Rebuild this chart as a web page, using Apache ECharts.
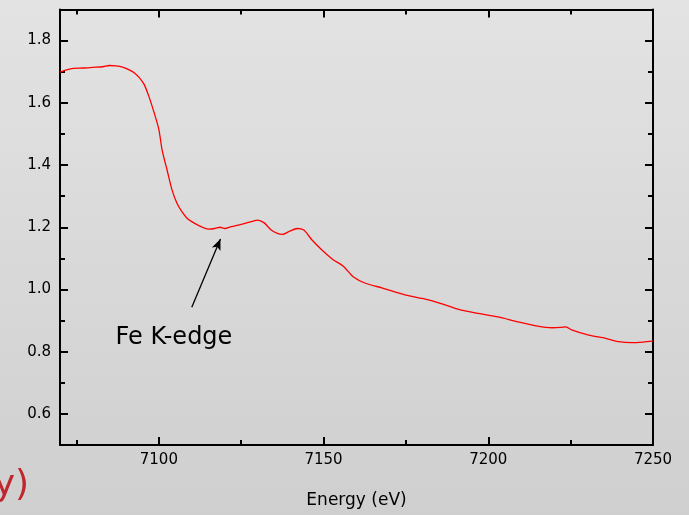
<!DOCTYPE html>
<html>
<head>
<meta charset="utf-8">
<script src="https://cdn.jsdelivr.net/npm/echarts@6/dist/echarts.min.js"></script>
<style>
  html, body { margin: 0; padding: 0; }
  #chart { width: 689px; height: 515px; }
</style>
</head>
<body>
<div id="chart"></div>
<script>
// Fe K-edge XANES spectrum: absorbance against photon energy
const energy = [7070, 7072, 7074, 7077, 7080, 7083, 7085, 7087, 7089, 7091, 7092.5, 7094, 7095.5,
  7097, 7098.5, 7100, 7101, 7102.5, 7104, 7105.5, 7107, 7108.5, 7110, 7112, 7115, 7117, 7118.6,
  7120, 7122, 7125, 7128, 7130, 7132, 7134, 7136, 7137.5, 7139.5, 7142, 7144, 7146.5, 7149.5,
  7153, 7156, 7159, 7162.7, 7167.7, 7175, 7180, 7185, 7191, 7197, 7203, 7209, 7215, 7219.4,
  7222, 7223.5, 7225.5, 7230.5, 7235.6, 7239.6, 7243.6, 7247, 7250];
const absorbance = [1.699, 1.706, 1.711, 1.712, 1.714, 1.716, 1.720, 1.719, 1.715, 1.706, 1.697, 1.682, 1.660,
  1.620, 1.571, 1.515, 1.448, 1.384, 1.320, 1.277, 1.250, 1.230, 1.218, 1.206, 1.194, 1.196, 1.200,
  1.196, 1.202, 1.209, 1.218, 1.223, 1.214, 1.192, 1.180, 1.177, 1.186, 1.196, 1.191, 1.159, 1.127,
  1.095, 1.075, 1.041, 1.020, 1.005, 0.982, 0.971, 0.957, 0.936, 0.923, 0.912, 0.896, 0.882, 0.877,
  0.878, 0.880, 0.869, 0.853, 0.843, 0.832, 0.829, 0.831, 0.834];

// axis ranges and tick positions
const xRange = [7070, 7250];
const yRange = [0.5, 1.9];
const xMajorTicks = [7100, 7150, 7200, 7250];
const xMinorTicks = [7075, 7125, 7175, 7225];
const yMajorTicks = [0.6, 0.8, 1.0, 1.2, 1.4, 1.6, 1.8];
const yMinorTicks = [0.7, 0.9, 1.1, 1.3, 1.5, 1.7];

// annotation: arrow from label toward the edge
const edgeLabel = 'Fe K-edge';
const edgeLabelPos = [7104.6, 0.845];
const arrowFrom = [7110, 0.943];
const arrowTo = [7118.7, 1.162];

const axisFont = { fontFamily: 'DejaVu Sans', fontSize: 15, color: '#000' };
const lineStyle = { color: '#000', width: 2 };

function xAxisDef(position, ticks, len, showLine, showLabel) {
  return {
    type: 'value', position: position, min: xRange[0], max: xRange[1],
    axisLine: { show: showLine, onZero: false, lineStyle: lineStyle },
    axisTick: { show: true, inside: true, length: len, customValues: ticks, lineStyle: lineStyle },
    axisLabel: Object.assign({ show: showLabel, customValues: ticks, margin: 8,
      formatter: v => String(v) }, axisFont),
    splitLine: { show: false }
  };
}
function yAxisDef(position, ticks, len, showLine, showLabel) {
  return {
    type: 'value', position: position, min: yRange[0], max: yRange[1],
    axisLine: { show: showLine, onZero: false, lineStyle: lineStyle },
    axisTick: { show: true, inside: true, length: len, customValues: ticks, lineStyle: lineStyle },
    axisLabel: Object.assign({ show: showLabel, customValues: ticks, margin: 9,
      formatter: v => v.toFixed(1) }, axisFont),
    splitLine: { show: false }
  };
}

const xMain = xAxisDef('bottom', xMajorTicks, 8, true, true);
xMain.name = 'Energy (eV)';
xMain.nameLocation = 'middle';
xMain.nameGap = 47;
xMain.nameTextStyle = { fontFamily: 'DejaVu Sans', fontSize: 17, color: '#000' };

const chart = echarts.init(document.getElementById('chart'), null, { renderer: 'canvas' });
chart.setOption({
  animation: false,
  backgroundColor: {
    type: 'linear', x: 0, y: 0, x2: 0, y2: 1,
    colorStops: [{ offset: 0, color: '#e3e3e3' }, { offset: 1, color: '#cfcfcf' }]
  },
  grid: { left: 60, right: 36, top: 9.5, bottom: 70, containLabel: false },
  xAxis: [
    xMain,
    xAxisDef('bottom', xMinorTicks, 5, false, false),
    xAxisDef('top', xMajorTicks, 8, true, false),
    xAxisDef('top', xMinorTicks, 5, false, false)
  ],
  yAxis: [
    yAxisDef('left', yMajorTicks, 8, true, true),
    yAxisDef('left', yMinorTicks, 5, false, false),
    yAxisDef('right', yMajorTicks, 8, true, false),
    yAxisDef('right', yMinorTicks, 5, false, false)
  ],
  graphic: [{
    type: 'text', right: 660, top: 468,
    style: { text: '(Energy)', font: '36px "DejaVu Sans"', fill: '#c0272d' }
  }],
  series: [{
    type: 'line',
    data: energy.map((e, i) => [e, absorbance[i]]),
    showSymbol: false,
    smooth: 0.25,
    lineStyle: { color: '#ff0000', width: 1.3 },
    itemStyle: { color: '#ff0000' },
    markLine: {
      silent: true,
      symbol: ['none', 'arrow'],
      symbolSize: [7, 11],
      lineStyle: { color: '#000', width: 1.3, type: 'solid' },
      label: { show: false },
      data: [[{ coord: arrowFrom }, { coord: arrowTo }]]
    },
    markPoint: {
      silent: true,
      symbol: 'circle', symbolSize: 0,
      label: { show: true, formatter: edgeLabel, fontFamily: 'DejaVu Sans', fontSize: 24, color: '#000' },
      data: [{ coord: edgeLabelPos }]
    }
  }]
});
</script>
</body>
</html>
